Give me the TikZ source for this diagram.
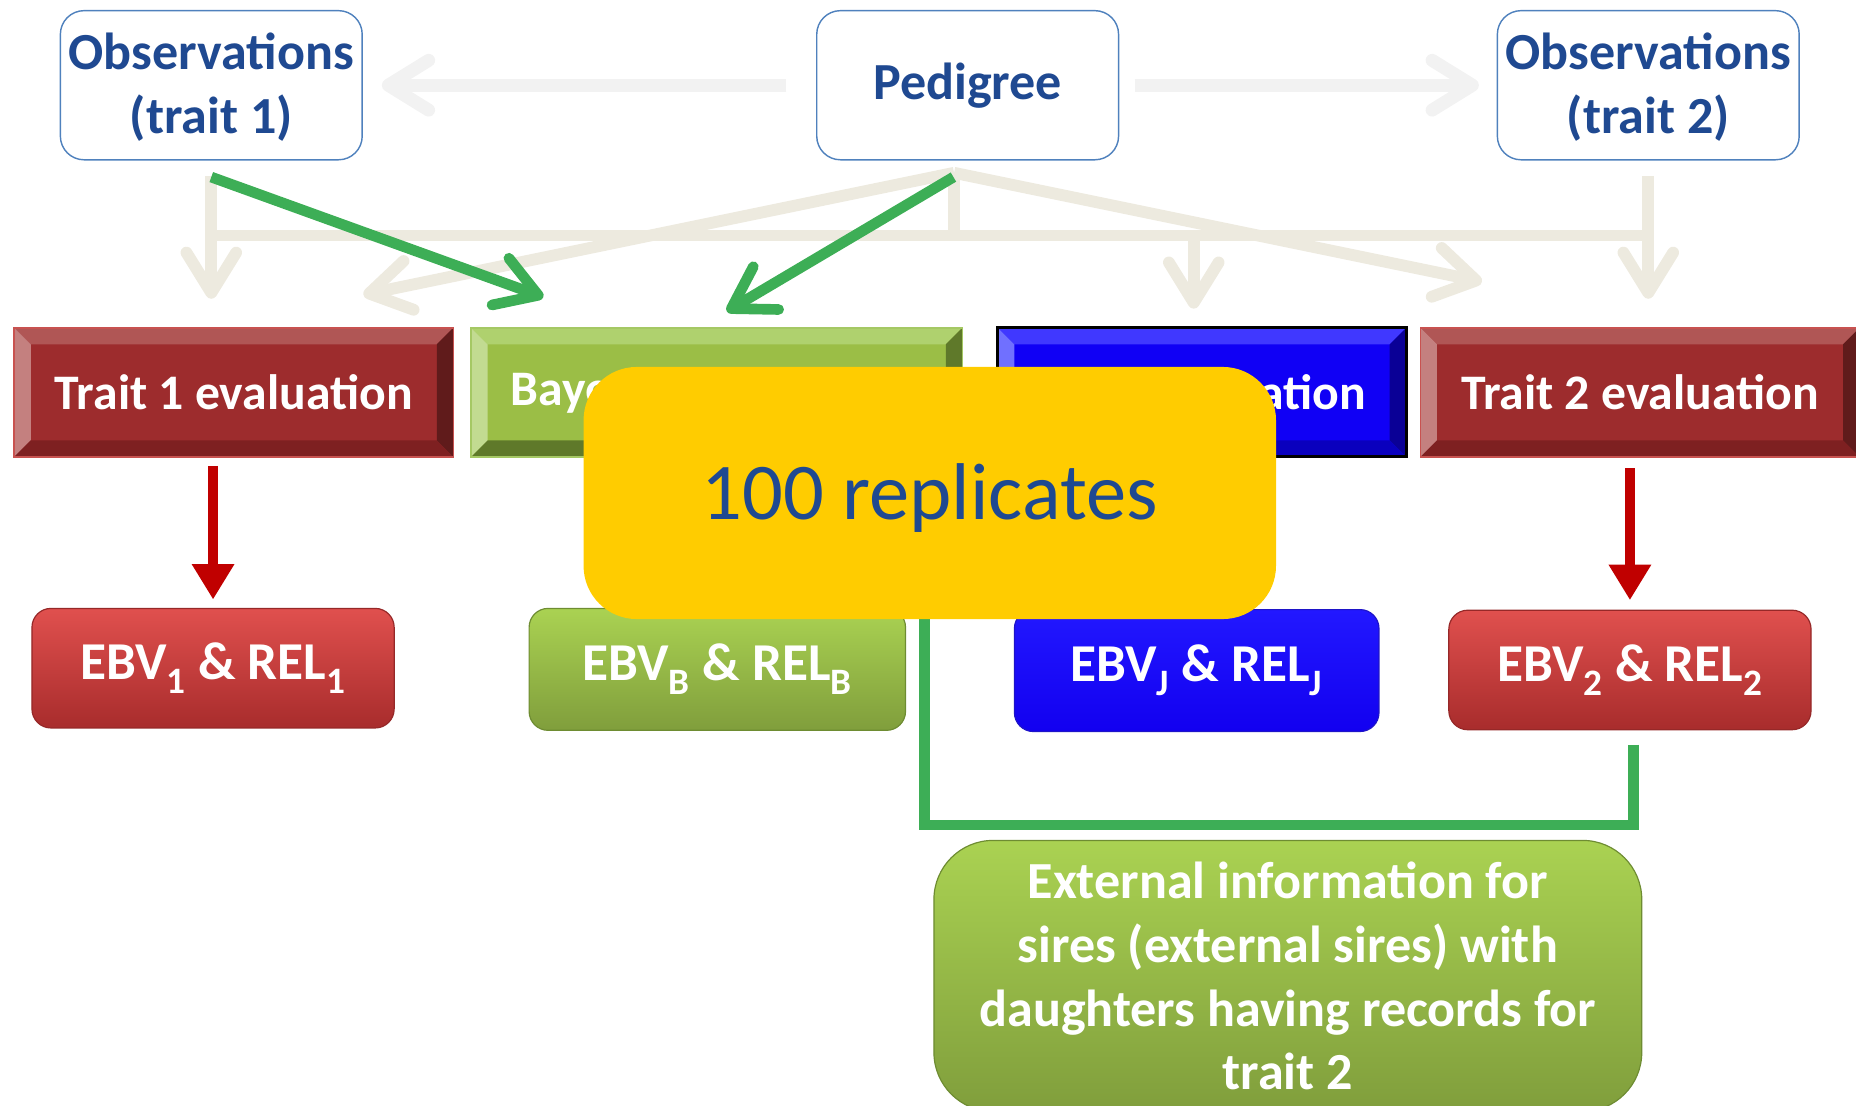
\documentclass[tikz,border=0pt]{standalone}
\usepackage{fontspec}
\setmainfont{Carlito}
\usetikzlibrary{arrows.meta}

\definecolor{titre}{RGB}{31,73,145}
\definecolor{cadre}{RGB}{79,129,189}
\definecolor{grisclair}{RGB}{242,242,242}
\definecolor{beige}{RGB}{237,234,223}
\definecolor{vert}{RGB}{61,174,86}
\definecolor{rouge}{RGB}{192,0,0}
\definecolor{jaune}{RGB}{255,204,0}
% biseaux rouges
\definecolor{rface}{RGB}{157,44,45}
\definecolor{rhaut}{RGB}{176,86,85}
\definecolor{rgauche}{RGB}{196,128,127}
\definecolor{rdroite}{RGB}{96,27,27}
\definecolor{rbas}{RGB}{126,32,33}
\definecolor{rbord}{RGB}{200,82,80}
% biseaux verts
\definecolor{vface}{RGB}{155,190,70}
\definecolor{vhaut}{RGB}{175,209,110}
\definecolor{vgauche}{RGB}{194,219,145}
\definecolor{vdroite}{RGB}{95,121,42}
\definecolor{vbas}{RGB}{95,121,42}
\definecolor{vbord}{RGB}{165,200,100}
% biseaux bleus
\definecolor{bface}{RGB}{16,0,245}
\definecolor{bhaut}{RGB}{64,56,255}
\definecolor{bgauche}{RGB}{112,112,255}
\definecolor{bdroite}{RGB}{10,0,150}
\definecolor{bbas}{RGB}{10,0,190}

\tikzset{
    observation/.style={
        rectangle, rounded corners=20pt, draw=cadre, line width=1.2pt,
        fill=white, minimum width=255pt, minimum height=126pt, align=center,
        text=titre, font=\fontsize{44}{54}\selectfont\bfseries
    },
    biseau/.style n args={6}{
        rectangle, fill=#1, draw=#6, line width=1.2pt, minimum height=109pt,
        text=white, font=\fontsize{42}{50}\selectfont\bfseries,
        path picture={
            \coordinate (no) at (path picture bounding box.north west);
            \coordinate (ne) at (path picture bounding box.north east);
            \coordinate (so) at (path picture bounding box.south west);
            \coordinate (se) at (path picture bounding box.south east);
            \fill[#2] (no) -- (ne) -- ([shift={(-14pt,-14pt)}]ne) -- ([shift={(14pt,-14pt)}]no) -- cycle;
            \fill[#3] (no) -- ([shift={(14pt,-14pt)}]no) -- ([shift={(14pt,14pt)}]so) -- (so) -- cycle;
            \fill[#4] (ne) -- (se) -- ([shift={(-14pt,14pt)}]se) -- ([shift={(-14pt,-14pt)}]ne) -- cycle;
            \fill[#5] (so) -- ([shift={(14pt,14pt)}]so) -- ([shift={(-14pt,14pt)}]se) -- (se) -- cycle;
        }
    },
    valeur/.style={
        rectangle, rounded corners=16pt, minimum width=306pt, minimum height=101pt,
        line width=1pt, text=white, font=\fontsize{45}{54}\selectfont\bfseries
    },
    valrouge/.style={valeur, top color={rgb,255:red,224;green,80;blue,78},
        bottom color={rgb,255:red,168;green,44;blue,44}, draw={rgb,255:red,150;green,40;blue,40}},
    valverte/.style={valeur, top color={rgb,255:red,170;green,210;blue,82},
        bottom color={rgb,255:red,128;green,158;blue,60}, draw={rgb,255:red,110;green,140;blue,50}},
    valbleue/.style={valeur, top color={rgb,255:red,34;green,24;blue,255},
        bottom color={rgb,255:red,18;green,0;blue,240}, draw={rgb,255:red,30;green,20;blue,200}},
    grise/.style={draw=grisclair, line width=11pt,
        -{Straight Barb[length=34pt, width=42pt, round]}},
    arbre/.style={draw=beige, line width=10pt},
    arbrefl/.style={arbre, -{Straight Barb[length=34pt, width=42pt, round]}},
    verte/.style={draw=vert, line width=9pt,
        -{Straight Barb[length=34pt, width=42pt, round]}},
    rougefl/.style={draw=rouge, line width=8pt, -{Triangle[length=30pt, width=34pt]}},
    crochet/.style={draw=vert, line width=9pt}
}

\begin{document}
\begin{tikzpicture}[x=1pt, y=-1pt]

    \useasboundingbox (0,0) rectangle (1568,934);
    \clip (0,0) rectangle (1568,934);

    % Cases du haut
    \node[observation, text depth=4pt] (obs1) at (178.5,72) {Observations\\(trait 1)};
    \node[observation, text depth=6pt] (ped) at (817.5,72) {Pedigree};
    \node[observation, text depth=4pt] (obs2) at (1392.5,72) {Observations\\(trait 2)};

    % Evaluations
    \node[biseau={rface}{rhaut}{rgauche}{rdroite}{rbas}{rbord}, minimum width=371pt]
        (t1) at (197.5,331.5) {Trait 1 evaluation};
    \node[biseau={vface}{vhaut}{vgauche}{vdroite}{vbas}{vbord}, minimum width=415pt]
        (bay) at (605.5,331.5) {Bayesian evaluation};
    \node[biseau={bface}{bhaut}{bgauche}{bdroite}{bbas}{black}, line width=2.5pt, minimum width=345pt]
        (joint) at (1015.5,331.5) {Joint evaluation};
    \node[biseau={rface}{rhaut}{rgauche}{rdroite}{rbas}{rbord}, minimum width=371pt]
        (t2) at (1385.5,331.5) {Trait 2 evaluation};

    % EBV et REL
    \node[valrouge] (eb1) at (180,564.5) {EBV\textsubscript{1} \& REL\textsubscript{1}};
    \node[valverte, minimum width=318pt, minimum height=103pt] (ebb) at (606,565.5)
        {EBV\textsubscript{B} \& REL\textsubscript{B}};
    \node[valbleue, minimum width=308pt, minimum height=103pt] (ebj) at (1011,566.5)
        {EBV\textsubscript{J} \& REL\textsubscript{J}};
    \node[valrouge] (eb2) at (1377,566) {EBV\textsubscript{2} \& REL\textsubscript{2}};

    % Fleches grises
    \draw[grise, shorten <=25pt, shorten >=16pt] (ped.west) -- (obs1.east);
    \draw[grise, shorten <=13pt, shorten >=15pt] (ped.east) -- (obs2.west);

    \coordinate (barre) at (0,199);
    \coordinate (pied) at (806,146);
    \coordinate (pg) at (307,249);
    \coordinate (pd) at (1252,238);

    \draw[arbre] (obs1.south |- barre) -- (obs2.south |- barre);
    \draw[arbre] (pied) -- (pied |- barre);
    \draw[arbrefl, shorten <=13pt, shorten >=24pt] (obs1.south) -- (obs1.south |- t1.north);
    \draw[arbrefl, shorten <=13pt, shorten >=24pt] (obs2.south) -- (obs2.south |- t2.north);
    \draw[arbrefl, shorten >=15pt] ([xshift=-7pt]joint.north |- barre) -- ([xshift=-7pt]joint.north);
    \draw[arbrefl] (pied) -- (pg);
    \draw[arbrefl] (pied) -- (pd);

    % Fleches vertes
    \coordinate (vb1) at (459,251);
    \coordinate (vb2) at (614,263);
    \draw[verte] ([yshift=-14pt]obs1.south) -- (vb1);
    \draw[verte] ([shift={(-12pt,-14pt)}]ped.south) -- (vb2);

    \coordinate (coude) at (781,697);
    \coordinate (retour) at (781,480);
    \draw[crochet] ([shift={(3pt,-12pt)}]eb2.south) |- (coude) -- (retour);

    % Fleches rouges
    \draw[rougefl, shorten <=7pt, shorten >=7pt] (t1.south -| eb1.north) -- (eb1.north);
    \draw[rougefl, shorten <=9pt, shorten >=8pt] (t2.south -| eb2.north) -- (eb2.north);

    % Replicats
    \node[rectangle, rounded corners=45pt, fill=jaune, minimum width=585pt, minimum height=213pt,
        text=titre, text depth=2pt, font=\fontsize{68}{80}\selectfont] (rep) at (785.5,416.5)
        {100 replicates};

    % Information externe
    \node[valverte, minimum width=598pt, minimum height=229pt, rounded corners=50pt, align=center,
        font=\fontsize{44}{54}\selectfont\bfseries] (ext) at (1088,824.5)
        {External information for\\sires (external sires) with\\daughters having records for\\trait 2};

\end{tikzpicture}
\end{document}
